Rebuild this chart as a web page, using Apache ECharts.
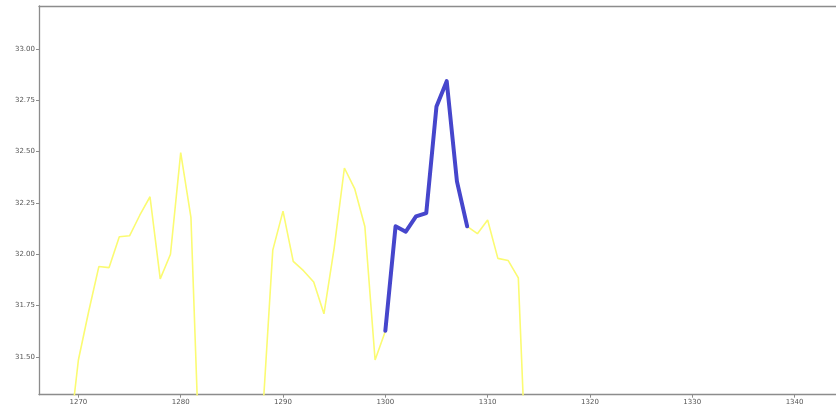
<!DOCTYPE html>
<html>
<head>
<meta charset="utf-8">
<script src="https://cdn.jsdelivr.net/npm/echarts@6/dist/echarts.min.js"></script>
<style>html,body{margin:0;padding:0;background:#fff;}#c{width:836px;height:410px;}</style>
</head>
<body>
<div id="c"></div>
<script>
// Yellow (thin) series: x positions and values (null = gap)
var yellowX = [1269,1270,1271,1272,1273,1274,1275,1276,1277,1278,1279,1280,1281,1282,1283,1284,1285,1286,1287,1288,1289,1290,1291,1292,1293,1294,1295,1296,1297,1298,1299,1300,1301,1302,1303,1304,1305,1306,1307,1308,1309,1310,1311,1312,1313,1314];
var yellowY = [31.05,31.485,31.72,31.94,31.935,32.085,32.09,32.19,32.28,31.88,32.00,32.495,32.18,30.75,null,null,null,null,null,31.21,32.02,32.21,31.965,31.92,31.865,31.71,32.03,32.42,32.32,32.135,31.485,31.625,32.136,32.11,32.184,32.20,32.72,32.843,32.355,32.136,32.10,32.167,31.98,31.97,31.885,30.65];
// Blue (thick) series
var blueX = [1300,1301,1302,1303,1304,1305,1306,1307,1308];
var blueY = [31.627,32.136,32.11,32.184,32.20,32.72,32.843,32.355,32.136];
// Tick labels
var xTicks = [1270,1280,1290,1300,1310,1320,1330,1340];
var yTicks = [31.5,31.75,32.0,32.25,32.5,32.75,33.0];

function pairs(xs, ys){ return xs.map(function(x,i){ return [x, ys[i]]; }); }

var spine = {color:'#8c8c8c', width:1.3};
var chart = echarts.init(document.getElementById('c'), null, {renderer:'canvas'});
chart.setOption({
  animation:false,
  backgroundColor:'#ffffff',
  grid:{left:39, top:6, right:0, bottom:15.3, show:false, containLabel:false},
  xAxis:[{
    type:'value', min:1266.15, max:1344.05, position:'bottom',
    axisLine:{show:true, lineStyle:spine},
    splitLine:{show:false},
    axisTick:{show:true, customValues:xTicks, length:3, lineStyle:{color:'#8c8c8c'}},
    axisLabel:{customValues:xTicks, fontSize:7, color:'#555', margin:4, fontFamily:'DejaVu Sans',
      formatter:function(v){return String(Math.round(v));}}
  },{
    type:'value', min:1266.15, max:1344.05, position:'top',
    axisLine:{show:true, lineStyle:spine},
    splitLine:{show:false}, axisTick:{show:false}, axisLabel:{show:false}
  }],
  yAxis:{
    type:'value', min:31.316, max:33.209,
    axisLine:{show:true, lineStyle:spine},
    splitLine:{show:false},
    axisTick:{show:true, customValues:yTicks, length:3, lineStyle:{color:'#8c8c8c'}},
    axisLabel:{customValues:yTicks, fontSize:7, color:'#555', margin:4, fontFamily:'DejaVu Sans',
      formatter:function(v){return v.toFixed(2);}}
  },
  series:[
    {type:'line', xAxisIndex:0, data:pairs(yellowX, yellowY), showSymbol:false, connectNulls:false, clip:true,
      lineStyle:{color:'#fbfb72', width:1.6}, z:2},
    {type:'line', xAxisIndex:0, data:pairs(blueX, blueY), showSymbol:false, clip:true,
      lineStyle:{color:'#4646cc', width:4, join:'round', cap:'round'}, z:3}
  ]
});
</script>
</body>
</html>
